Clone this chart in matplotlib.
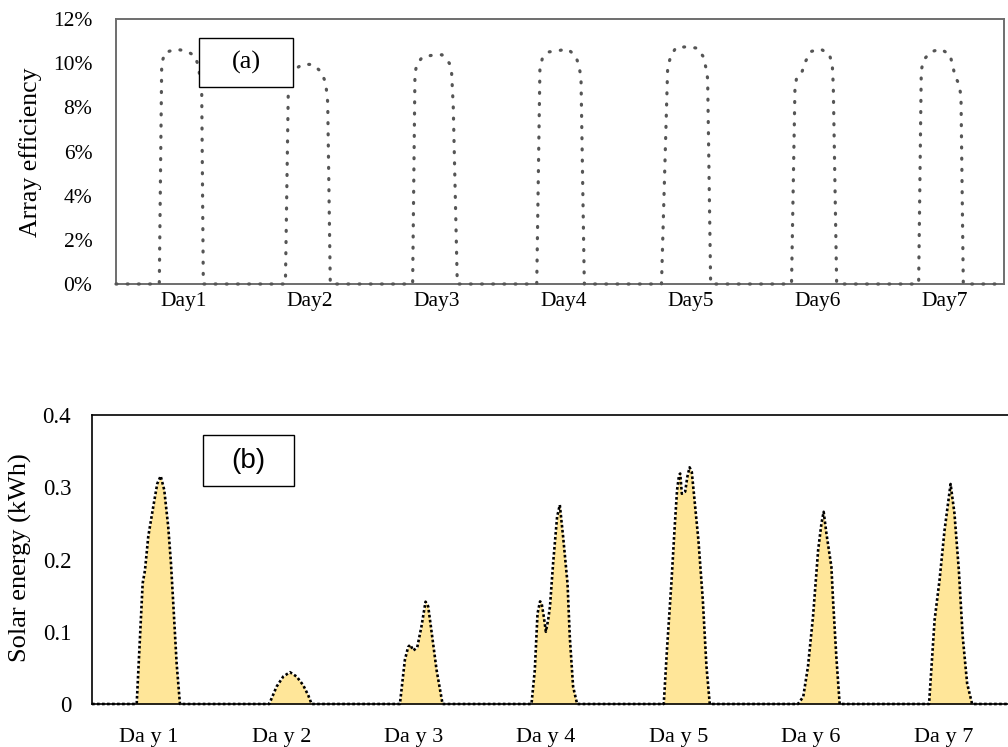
import numpy as np
import matplotlib
matplotlib.use("Agg")
import matplotlib.pyplot as plt
from matplotlib.patches import Rectangle

# ---------------- data ----------------
day_labels_a = ["Day1", "Day2", "Day3", "Day4", "Day5", "Day6", "Day7"]
day_labels_b = ["Da y 1", "Da y 2", "Da y 3", "Da y 4", "Da y 5", "Da y 6", "Da y 7"]

# (a) array efficiency (%), hour of day -> value, one list pair per day
eff_h1 = [8.19, 8.65, 9.27, 11.29, 13.24, 14.94, 15.57, 15.89, 16.21, 16.52]
eff_v1 = [0, 10.0, 10.48, 10.63, 10.56, 10.33, 9.88, 9.35, 8.9, 0]
eff_h2 = [8.05, 8.6, 9.0, 9.67, 11.32, 13.21, 14.78, 15.67, 16.05, 16.54]
eff_v2 = [0, 8.82, 9.36, 9.7, 9.95, 9.94, 9.62, 9.12, 8.23, 0]
eff_h3 = [8.12, 8.56, 8.89, 10.02, 11.9, 13.67, 15.06, 15.5, 15.8, 16.57]
eff_v3 = [0, 9.5, 9.95, 10.29, 10.36, 10.38, 10.0, 9.53, 8.06, 0]
eff_h4 = [7.6, 8.2, 8.65, 9.91, 11.49, 13.45, 14.97, 15.59, 15.97, 16.6]
eff_v4 = [0, 9.73, 10.21, 10.51, 10.56, 10.64, 10.33, 9.88, 9.35, 0]
eff_h5 = [7.2, 8.37, 8.93, 9.94, 11.96, 13.97, 15.1, 15.6, 15.93, 16.5]
eff_v5 = [0, 9.8, 10.3, 10.71, 10.74, 10.68, 10.3, 9.8, 9.3, 0]
eff_h6 = [7.8, 8.45, 8.77, 9.83, 10.47, 11.48, 13.31, 14.94, 15.51, 15.7, 16.34]
eff_v6 = [0, 8.85, 9.35, 9.64, 10.09, 10.53, 10.64, 10.41, 9.95, 8.97, 0]
eff_h7 = [7.85, 8.35, 8.8, 10.12, 12.0, 13.77, 14.28, 14.72, 15.48, 15.86, 16.3]
eff_v7 = [0, 9.68, 10.15, 10.51, 10.64, 10.39, 9.91, 9.42, 9.05, 8.51, 0]

# (b) solar energy (kWh), hour of day -> value, one list pair per day
sol_h1 = [8.1, 9.18, 9.6, 10.2, 11.1, 11.83, 12.45, 13.1, 13.82, 14.31, 14.73, 15.34, 15.94]
sol_v1 = [0, 0.167, 0.185, 0.232, 0.273, 0.305, 0.3155, 0.296, 0.245, 0.195, 0.139, 0.056, 0]
sol_h2 = [8.12, 9.45, 10.66, 11.87, 13.08, 14.28, 15.19, 15.8]
sol_v2 = [0, 0.024, 0.038, 0.044, 0.038, 0.026, 0.012, 0]
sol_h3 = [7.8, 8.7, 9.3, 9.7, 10.2, 10.93, 11.7, 12.45, 12.93, 13.54, 14.45, 15.53]
sol_v3 = [0, 0.061, 0.079, 0.082, 0.074, 0.078, 0.107, 0.1416, 0.135, 0.1, 0.047, 0]
sol_h4 = [7.65, 8.25, 8.74, 9.2, 9.47, 9.9, 10.25, 10.66, 11.0, 11.57, 12.29, 12.78,
          13.38, 14.18, 14.59, 15.19, 15.92]
sol_v4 = [0, 0.047, 0.125, 0.142, 0.14, 0.12, 0.1, 0.116, 0.135, 0.195, 0.259, 0.2755,
          0.2316, 0.167, 0.093, 0.024, 0]
sol_h5 = [7.62, 8.2, 9.0, 9.6, 10.03, 10.4, 10.6, 10.9, 11.5, 11.9, 12.3, 12.7, 13.2,
          13.9, 14.7, 15.36, 15.96]
sol_v5 = [0, 0.075, 0.167, 0.245, 0.296, 0.317, 0.319, 0.291, 0.294, 0.3146, 0.3276,
          0.321, 0.282, 0.227, 0.144, 0.052, 0]
sol_h6 = [7.95, 8.9, 9.76, 10.67, 11.6, 12.2, 12.6, 13.1, 14.0, 14.3, 14.9, 15.5]
sol_v6 = [0, 0.0101, 0.052, 0.121, 0.213, 0.25, 0.266, 0.236, 0.19, 0.144, 0.065, 0]
sol_h7 = [7.7, 8.7, 9.6, 10.5, 11.6, 12.3, 13.1, 13.8, 14.6, 15.5]
sol_v7 = [0, 0.116, 0.1715, 0.24, 0.3045, 0.264, 0.185, 0.093, 0.0286, 0]

eff_ticks = [0, 2, 4, 6, 8, 10, 12]
sol_ticks = [0, 0.1, 0.2, 0.3, 0.4]
sol_tick_labels = ["0", "0.1", "0.2", "0.3", "0.4"]

N_HOURS = 168


def week_series(hours, values):
    """Join per-day samples into one continuous week series (zero at night)."""
    t, v = [0.0], [0.0]
    for d, (h, y) in enumerate(zip(hours, values)):
        t.extend(24 * d + np.asarray(h, dtype=float))
        v.extend(y)
    t.append(float(N_HOURS))
    v.append(0.0)
    return np.array(t), np.array(v)


eff_t, eff_v = week_series([eff_h1, eff_h2, eff_h3, eff_h4, eff_h5, eff_h6, eff_h7],
                           [eff_v1, eff_v2, eff_v3, eff_v4, eff_v5, eff_v6, eff_v7])
sol_t, sol_v = week_series([sol_h1, sol_h2, sol_h3, sol_h4, sol_h5, sol_h6, sol_h7],
                           [sol_v1, sol_v2, sol_v3, sol_v4, sol_v5, sol_v6, sol_v7])

# ---------------- figure ----------------
W, H = 1008, 747
fig = plt.figure(figsize=(W / 100, H / 100), dpi=100)
serif = "Liberation Serif"
sans = "Liberation Sans"


def px_axes(left, top, right, bottom):
    return fig.add_axes([left / W, 1 - bottom / H, (right - left) / W, (bottom - top) / H])


# ---- panel (a) ----
ax1 = px_axes(116, 19, 1004, 284)
ax1.plot(eff_t, eff_v, color="#555555", lw=2.3, ls=(0, (0.3, 3.2)),
         dash_capstyle="round", clip_on=False, zorder=3)
ax1.set_xlim(0, N_HOURS)
ax1.set_ylim(0, 12)
ax1.set_yticks(eff_ticks)
ax1.set_yticklabels([f"{v}%" for v in eff_ticks], fontfamily=serif, fontsize=15.5)
ax1.set_xticks([24 * i + 12.7 for i in range(7)])
ax1.set_xticklabels(day_labels_a, fontfamily=serif, fontsize=15.5)
ax1.tick_params(length=0)
ax1.tick_params(axis="y", pad=17)
ax1.tick_params(axis="x", pad=6)
for s in ax1.spines.values():
    s.set_color("#6e6e6e")
    s.set_linewidth(1.4)
ax1.add_patch(Rectangle((0.0938, 0.742), 0.1059, 0.185, transform=ax1.transAxes,
                        facecolor="white", edgecolor="black", lw=1.0, zorder=5))
ax1.text(0.1467, 0.835, "(a)", transform=ax1.transAxes, ha="center", va="center",
         fontfamily=serif, fontsize=19, zorder=6)
fig.text(31 / W, 1 - 152 / H, "Array efficiency", rotation=90, ha="center",
         va="center", fontfamily=serif, fontsize=18.5)

# ---- panel (b) ----
ax2 = px_axes(92, 415, 1019, 704)
ax2.fill_between(sol_t, sol_v, 0, color="#FFE699", lw=0, zorder=2)
ax2.plot(sol_t, sol_v, color="black", lw=1.9, ls=(0, (1, 0.9)), clip_on=False, zorder=3)
ax2.set_xlim(0, N_HOURS)
ax2.set_ylim(0, 0.4)
ax2.set_yticks(sol_ticks)
ax2.set_yticklabels(sol_tick_labels, fontfamily=serif, fontsize=16.5)
ax2.set_xticks([24 * i + 10.3 for i in range(7)])
ax2.set_xticklabels(day_labels_b, fontfamily=serif, fontsize=16)
ax2.tick_params(length=0)
ax2.tick_params(axis="y", pad=15)
ax2.tick_params(axis="x", pad=17)
for s in ax2.spines.values():
    s.set_color("black")
    s.set_linewidth(1.2)
ax2.add_patch(Rectangle((0.12, 0.754), 0.098, 0.177, transform=ax2.transAxes,
                        facecolor="white", edgecolor="black", lw=1.0, zorder=5))
ax2.text(0.169, 0.842, "(b)", transform=ax2.transAxes, ha="center", va="center",
         fontfamily=sans, fontsize=20, zorder=6)
fig.text(20 / W, 1 - 558 / H, "Solar energy (kWh)", rotation=90, ha="center",
         va="center", fontfamily=serif, fontsize=19)

fig.savefig("out.png", dpi=100)
